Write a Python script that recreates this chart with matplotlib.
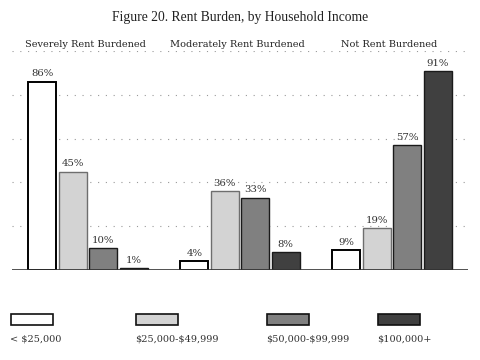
import numpy as np
import matplotlib.pyplot as plt
from matplotlib.patches import Rectangle

categories = ['Severely Rent Burdened', 'Moderately Rent Burdened', 'Not Rent Burdened']
income_groups = ['< $25,000', '$25,000-$49,999', '$50,000-$99,999', '$100,000+']
values = [
    [86, 4, 9],    # < $25,000
    [45, 36, 19],  # $25,000-$49,999
    [10, 33, 57],  # $50,000-$99,999
    [1, 8, 91],    # $100,000+
]
colors = ['#ffffff', '#d3d3d3', '#808080', '#404040']
edges = ['#000000', '#6e6e6e', '#1a1a1a', '#1a1a1a']

plt.rcParams['font.family'] = ['DejaVu Serif']
TITLE_FONT = ['Liberation Serif', 'DejaVu Serif']


def main():
    fig = plt.figure(figsize=(4.8, 3.6), dpi=100)
    ax = fig.add_axes([0.025, 0.25, 0.95, 0.608])

    x = np.arange(len(categories))
    pitch = 0.2
    width = 0.185
    for i, vals in enumerate(values):
        pos = x + (i - 1.5) * pitch
        lw = 1.4 if i == 0 else 1.0
        ax.bar(pos, vals, width=width, color=colors[i], edgecolor=edges[i],
               linewidth=lw, zorder=3)
        for px, v in zip(pos, vals):
            ax.text(px, v + 1.5, f'{v}%', ha='center', va='bottom',
                    fontsize=7.3, color='#333333')

    ax.set_xlim(-0.5, 2.5)
    ax.set_ylim(0, 100)
    for g in [20, 40, 60, 80, 100]:
        ax.axhline(g, color='#999999', linestyle=(0, (1, 6)), linewidth=0.8, zorder=1)
    ax.axhline(0, color='#333333', linewidth=1.2, zorder=4)
    for s in ax.spines.values():
        s.set_visible(False)
    ax.set_xticks([])
    ax.set_yticks([])

    # category names sit just above the top grid line
    for xi, name in zip(x, categories):
        ax.text(xi - 0.02, 101, name, ha='center', va='bottom', fontsize=7,
                color='#222222')

    fig.text(0.5, 0.952, 'Figure 20. Rent Burden, by Household Income',
             ha='center', va='center', fontsize=9.8, color='#222222',
             family=TITLE_FONT)

    # legend drawn by hand along the bottom
    lx = [11, 136, 267, 378]
    for i, name in enumerate(income_groups):
        fig.patches.append(Rectangle((lx[i] / 480, 1 - 325 / 360), 42 / 480, 11 / 360,
                                     transform=fig.transFigure, facecolor=colors[i],
                                     edgecolor='#111111', linewidth=1.2))
        fig.text(lx[i] / 480 - 0.002, 1 - 339 / 360, name, ha='left', va='center',
                 fontsize=7, color='#333333', parse_math=False)

    fig.savefig('out.png', dpi=100)


if __name__ == "__main__":
    main()
